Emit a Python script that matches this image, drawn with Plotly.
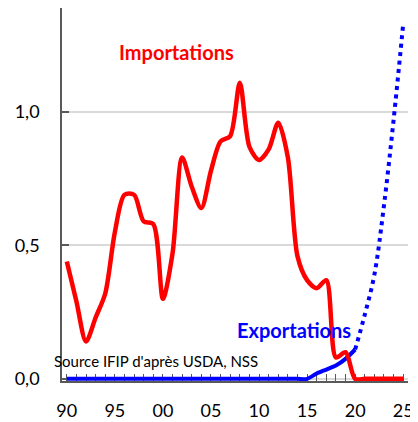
import plotly.graph_objects as go

years_imp = list(range(1990, 2026))
importations = [0.44, 0.29, 0.14, 0.23, 0.32, 0.55, 0.69, 0.69, 0.59, 0.58,
                0.30, 0.47, 0.83, 0.72, 0.64, 0.78, 0.89, 0.91, 1.11, 0.87,
                0.82, 0.86, 0.96, 0.83, 0.46, 0.37, 0.34, 0.37, 0.08, 0.10,
                0.0, 0.0, 0.0, 0.0, 0.0, 0.0]

years_exp = list(range(1990, 2021))
exportations = [0.0] * 26 + [0.02, 0.035, 0.05, 0.075, 0.11]

years_proj = [2020, 2021, 2022, 2023, 2024, 2025]
projection = [0.11, 0.24, 0.39, 0.65, 0.97, 1.33]

x_tickvals = [1990, 1995, 2000, 2005, 2010, 2015, 2020, 2025]
x_ticktext = ["90", "95", "00", "05", "10", "15", "20", "25"]
y_tickvals = [0.0, 0.5, 1.0]
y_ticktext = ["0,0", "0,5", "1,0"]

FONT = "Lato"
AXIS_COL = "#595959"

fig = go.Figure()
fig.add_trace(go.Scatter(x=years_proj, y=projection, mode="lines",
                         line=dict(color="#0000ff", width=4, dash="4px,4.5px", shape="spline", smoothing=1.0),
                         hoverinfo="skip"))
fig.add_trace(go.Scatter(x=years_exp, y=exportations, mode="lines",
                         line=dict(color="#0000ff", width=4, shape="spline", smoothing=0.8),
                         hoverinfo="skip"))
fig.add_trace(go.Scatter(x=years_imp, y=importations, mode="lines",
                         line=dict(color="#ff0000", width=4.5, shape="spline", smoothing=0.8),
                         hoverinfo="skip"))

fig.add_annotation(x=2001.4, y=1.225, text="<b>Importations</b>", showarrow=False,
                   xanchor="center", yanchor="middle",
                   font=dict(family=FONT, size=20, color="#ff0000"))
fig.add_annotation(x=2013.6, y=0.184, text="<b>Exportations</b>", showarrow=False,
                   xanchor="center", yanchor="middle",
                   font=dict(family=FONT, size=20, color="#0000ff"))
fig.add_annotation(xref="paper", x=-0.03, y=0.067, text="Source IFIP d'après USDA, NSS",
                   showarrow=False, xanchor="left", yanchor="middle",
                   font=dict(family=FONT, size=15, color="#000000"))

fig.update_layout(
    width=410, height=414,
    margin=dict(l=54, r=10, t=0, b=41),
    paper_bgcolor="white", plot_bgcolor="white",
    showlegend=False,
    font=dict(family=FONT, size=18, color="#000000"),
)
fig.update_xaxes(
    range=[1989.5, 2025.5],
    tickmode="array", tickvals=x_tickvals, ticktext=x_ticktext,
    ticks="inside", ticklen=7, tickwidth=1, tickcolor=AXIS_COL,
    minor=dict(dtick=1, tick0=1990, ticks="inside", ticklen=7, tickwidth=1, tickcolor=AXIS_COL, showgrid=False),
    showline=True, linecolor=AXIS_COL, linewidth=1.5,
    showgrid=False, zeroline=False,
    ticklabelstandoff=13,
    tickfont=dict(family=FONT, size=18),
    layer="below traces",
    automargin=False,
)
fig.update_yaxes(
    range=[-0.008, 1.39],
    tickmode="array", tickvals=y_tickvals, ticktext=y_ticktext,
    ticks="inside", ticklen=7, tickwidth=1.5, tickcolor=AXIS_COL,
    showline=True, linecolor=AXIS_COL, linewidth=1.5,
    showgrid=True, gridcolor="#d9d9d9", gridwidth=1.5,
    zeroline=False,
    ticklabelstandoff=17,
    tickfont=dict(family=FONT, size=18),
    layer="below traces",
    automargin=False,
)

fig.write_html("out.html")
